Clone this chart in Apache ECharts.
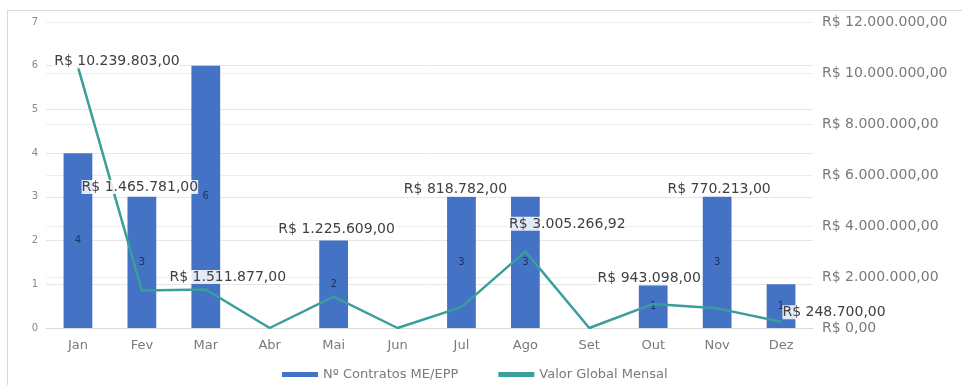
<!DOCTYPE html>
<html>
<head>
<meta charset="utf-8">
<script src="https://cdn.jsdelivr.net/npm/echarts@6/dist/echarts.min.js"></script>
<style>
  html, body { margin: 0; padding: 0; background: #fff; }
  #frame { position: absolute; left: 7px; top: 10px; width: 960px; height: 380px; border: 1px solid #d9d9d9; box-sizing: border-box; }
  #chart { position: absolute; left: 0; top: 0; width: 962px; height: 385px; }
</style>
</head>
<body>
<div id="frame"></div>
<div id="chart"></div>
<script>
const categories = ['Jan', 'Fev', 'Mar', 'Abr', 'Mai', 'Jun', 'Jul', 'Ago', 'Set', 'Out', 'Nov', 'Dez'];
const contratos = [4, 3, 6, 0, 2, 0, 3, 3, 0, 1, 3, 1];
const valorGlobal = [10239803.00, 1465781.00, 1511877.00, 0, 1225609.00, 0, 818782.00, 3005266.92, 0, 943098.00, 770213.00, 248700.00];
const leftTicks = [0, 1, 2, 3, 4, 5, 6, 7];
const rightTicks = [0, 2000000, 4000000, 6000000, 8000000, 10000000, 12000000];
const seriesNames = ['Nº Contratos ME/EPP', 'Valor Global Mensal'];

function brl(v) {
  const fixed = Math.abs(v).toFixed(2);
  const parts = fixed.split('.');
  const intPart = parts[0].replace(/\B(?=(\d{3})+(?!\d))/g, '.');
  return 'R$ ' + intPart + ',' + parts[1];
}

// label nudges (dx, dy) relative to the default 'top' placement, mimicking the reference
const labelNudges = [[39, 7], [-2, -91], [22, 0], [0, 0], [3, -55], [0, 0], [-6, -105], [42, -15], [0, 0], [-4, -13], [2, -107], [53, 3]];

const FONT = 'DejaVu Sans';
const chart = echarts.init(document.getElementById('chart'), null, { renderer: 'canvas' });

chart.setOption({
  animation: false,
  textStyle: { fontFamily: FONT },
  grid: { left: 46, right: 149, top: 22, bottom: 57 },
  legend: {
    left: 277,
    top: 363,
    itemWidth: 36,
    itemHeight: 5,
    itemGap: 40,
    textStyle: { fontFamily: FONT, fontSize: 13, color: '#7a7a7a' },
    data: [
      { name: seriesNames[0], icon: 'rect' },
      { name: seriesNames[1], icon: 'rect' }
    ]
  },
  xAxis: {
    type: 'category',
    data: categories,
    axisTick: { show: false },
    axisLine: { lineStyle: { color: '#d9d9d9' } },
    axisLabel: { color: '#7a7a7a', fontSize: 13, fontFamily: FONT, margin: 11 }
  },
  yAxis: [
    {
      type: 'value',
      min: leftTicks[0],
      max: leftTicks[leftTicks.length - 1],
      interval: 1,
      axisLine: { show: false },
      axisTick: { show: false },
      axisLabel: { color: '#8a8a8a', fontSize: 10, fontFamily: FONT, margin: 8 },
      splitLine: { lineStyle: { color: '#e6e6e6', width: 1 } }
    },
    {
      type: 'value',
      min: rightTicks[0],
      max: rightTicks[rightTicks.length - 1],
      interval: 2000000,
      position: 'right',
      axisLine: { show: false },
      axisTick: { show: false },
      axisLabel: {
        color: '#7a7a7a', fontSize: 14, fontFamily: FONT, margin: 9,
        formatter: v => brl(v)
      },
      splitLine: { lineStyle: { color: '#eeeeee', width: 1 } }
    }
  ],
  series: [
    {
      name: seriesNames[0],
      type: 'bar',
      yAxisIndex: 0,
      data: contratos,
      barWidth: '45%',
      itemStyle: { color: '#4472c4' },
      label: {
        show: true,
        position: 'inside',
        color: '#1f3260',
        fontSize: 10,
        fontFamily: FONT,
        formatter: p => p.value > 0 ? String(p.value) : ''
      },
      z: 2
    },
    {
      name: seriesNames[1],
      type: 'line',
      yAxisIndex: 1,
      data: valorGlobal,
      symbol: 'circle',
      symbolSize: 1,
      showSymbol: true,
      lineStyle: { color: '#3a9e9a', width: 2.5 },
      itemStyle: { color: '#3a9e9a' },
      labelLayout: function (params) {
        const n = labelNudges[params.dataIndex] || [0, 0];
        return { dx: n[0], dy: n[1], hideOverlap: false };
      },
      label: {
        show: true,
        position: 'top',
        color: '#404040',
        fontSize: 14,
        fontFamily: FONT,
        backgroundColor: 'rgba(255,255,255,0.85)',
        formatter: p => p.value > 0 ? brl(p.value) : ''
      },
      z: 5
    }
  ]
});
</script>
</body>
</html>
